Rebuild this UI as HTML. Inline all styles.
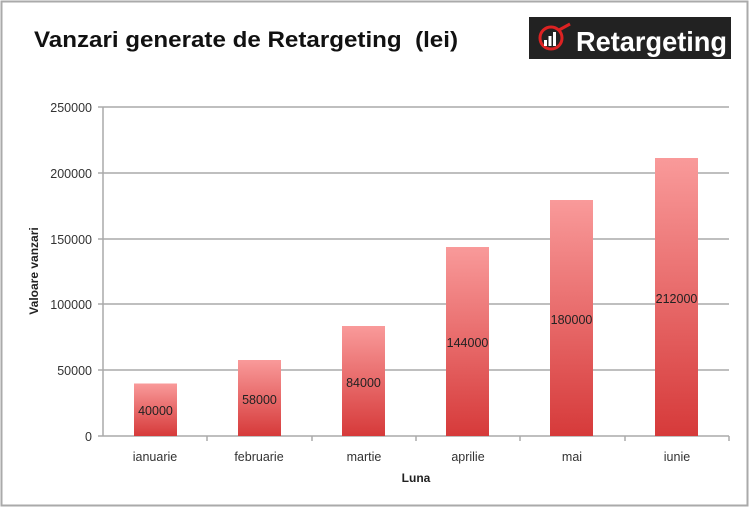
<!DOCTYPE html>
<html><head><meta charset="utf-8"><style>
body{margin:0;background:#fff;}
svg{display:block;font-family:"Liberation Sans",sans-serif;}
</style></head><body>
<svg width="750" height="509" viewBox="0 0 750 509">
<defs><linearGradient id="g" x1="0" y1="0" x2="0" y2="1"><stop offset="0" stop-color="#f99a9a"/><stop offset="1" stop-color="#d63a3a"/></linearGradient></defs>
<rect x="1.5" y="1.5" width="746" height="504" fill="#fff" stroke="#aaa" stroke-width="2"/>
<text x="34" y="47" font-size="22" font-weight="bold" fill="#111" textLength="424" lengthAdjust="spacingAndGlyphs">Vanzari generate de Retargeting&#160; (lei)</text>
<rect x="529" y="17" width="202" height="42" fill="#222"/>
<circle cx="551" cy="38" r="11" fill="none" stroke="#d22" stroke-width="3"/>
<path d="M559 30 L570 24" stroke="#d22" stroke-width="3"/>
<rect x="544" y="40" width="3" height="6" fill="#fff"/><rect x="548.5" y="36" width="3" height="10" fill="#fff"/><rect x="553" y="32" width="3" height="14" fill="#fff"/>
<text x="576" y="51" font-size="28" font-weight="bold" fill="#fff" textLength="151" lengthAdjust="spacingAndGlyphs">Retargeting</text>
<g stroke="#aaa" stroke-width="1.5">
<line x1="103" y1="107" x2="729" y2="107"/><line x1="103" y1="173" x2="729" y2="173"/><line x1="103" y1="239" x2="729" y2="239"/><line x1="103" y1="304" x2="729" y2="304"/><line x1="103" y1="370" x2="729" y2="370"/>
<line x1="98" y1="436" x2="729" y2="436"/><line x1="103" y1="107" x2="103" y2="436"/>
<line x1="98" y1="107" x2="103" y2="107"/><line x1="98" y1="173" x2="103" y2="173"/><line x1="98" y1="239" x2="103" y2="239"/><line x1="98" y1="304" x2="103" y2="304"/><line x1="98" y1="370" x2="103" y2="370"/>
<line x1="207" y1="436" x2="207" y2="441"/><line x1="312" y1="436" x2="312" y2="441"/><line x1="416" y1="436" x2="416" y2="441"/><line x1="520" y1="436" x2="520" y2="441"/><line x1="625" y1="436" x2="625" y2="441"/><line x1="729" y1="436" x2="729" y2="441"/>
</g>
<g font-size="12.5" fill="#333" text-anchor="end">
<text x="92" y="112">250000</text><text x="92" y="178">200000</text><text x="92" y="244">150000</text><text x="92" y="309">100000</text><text x="92" y="375">50000</text><text x="92" y="441">0</text>
</g>
<g fill="url(#g)">
<rect x="134" y="383.5" width="43" height="52.5"/>
<rect x="238" y="360" width="43" height="76"/>
<rect x="342" y="326" width="43" height="110"/>
<rect x="446" y="247" width="43" height="189"/>
<rect x="550" y="200" width="43" height="236"/>
<rect x="655" y="158" width="43" height="278"/>
</g>
<g font-size="12.5" fill="#222" text-anchor="middle">
<text x="155.5" y="415">40000</text><text x="259.5" y="404">58000</text><text x="363.5" y="387">84000</text><text x="467.5" y="347">144000</text><text x="571.5" y="324">180000</text><text x="676.5" y="303">212000</text>
</g>
<g font-size="12.5" fill="#333" text-anchor="middle">
<text x="155" y="461">ianuarie</text><text x="259" y="461">februarie</text><text x="364" y="461">martie</text><text x="468" y="461">aprilie</text><text x="572" y="461">mai</text><text x="677" y="461">iunie</text>
</g>
<text x="416" y="482" font-size="12" font-weight="bold" fill="#222" text-anchor="middle">Luna</text>
<text transform="translate(38,271) rotate(-90)" font-size="12" font-weight="bold" fill="#222" text-anchor="middle">Valoare vanzari</text>
</svg>
</body></html>
